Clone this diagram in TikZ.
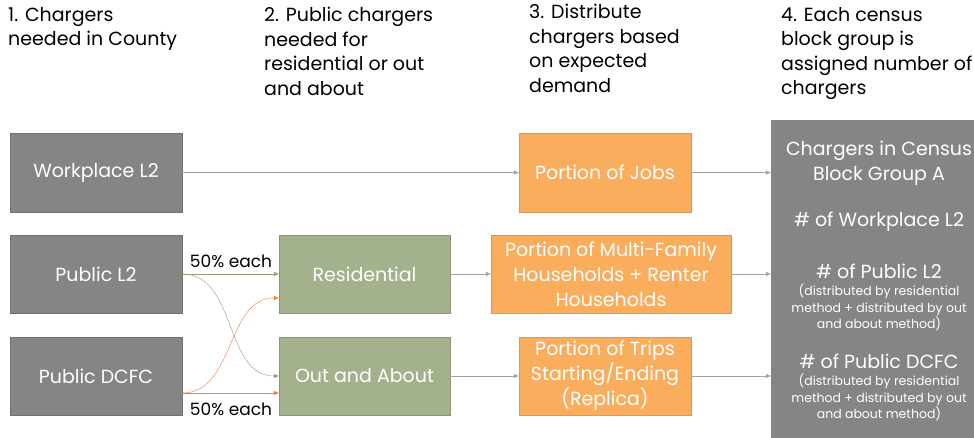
\documentclass[tikz,border=0pt]{standalone}
\usepackage{fontspec}
\setmainfont{Poppins}
\usetikzlibrary{arrows.meta,positioning,calc}
\definecolor{BoxGray}{HTML}{858585}
\definecolor{BoxGreen}{HTML}{A3B18C}
\definecolor{BoxOrange}{HTML}{FBAD5E}
\definecolor{LineGray}{HTML}{A3A3A3}
\definecolor{LineGreen}{HTML}{8FA07A}
\definecolor{LineOrange}{HTML}{F47B3A}
\tikzstyle{county} = [rectangle, minimum width=172pt, minimum height=79pt, fill=BoxGray, draw=BoxGray!85!black, text=white, font=\fontsize{19}{25}\selectfont]
\tikzstyle{split} = [county, minimum width=171pt, fill=BoxGreen, draw=BoxGreen!85!black]
\tikzstyle{demand} = [county, fill=BoxOrange, draw=BoxOrange!88!black, align=center]
\tikzstyle{heading} = [anchor=north west, align=left, inner sep=0pt, font=\fontsize{19}{24.5}\selectfont]
\tikzstyle{arrow} = [thin,-{Triangle[length=5pt,width=4pt]}]
\begin{document}
\begin{tikzpicture}[x=1pt,y=-1pt]
\useasboundingbox (0,0) rectangle (974,438);
% column headings
\node[heading] (h1) at (8,7) {1. Chargers\\needed in County};
\node[heading] (h2) at (264,7) {2. Public chargers\\needed for\\residential or out\\and about};
\node[heading] (h3) at (529,4) {3. Distribute\\chargers based\\on expected\\demand};
\node[heading] (h4) at (781,7) {4. Each census\\block group is\\assigned number of\\chargers};
% chargers needed in county
\node[county] (wp) at (96,172.5) {Workplace L2};
\node[county, minimum height=78pt] (pl2) at (96,274) {Public L2};
\node[county, minimum height=78pt] (dcfc) at (96,376) {Public DCFC};
% residential / out and about
\node[split, minimum height=78pt] (res) at (364.5,274) {Residential};
\node[split, minimum height=78pt] (oaa) at (364.5,376) {Out and About};
% distribution by demand
\node[demand] (jobs) at (605,172.5) {Portion of Jobs};
\node[demand, minimum width=240pt, minimum height=78pt] (mfh) at (611,274) {Portion of Multi-Family\\Households + Renter\\Households};
\node[demand, minimum height=78pt] (trips) at (605,376) {Portion of Trips\\Starting/Ending\\(Replica)};
% census block group
\node[rectangle, fill=BoxGray, minimum width=216pt, minimum height=318pt] (cbg) at (879,279) {};
\begin{scope}[text=white, font=\fontsize{19}{25}\selectfont, align=center]
\node (cbgA) at (879,163.5) {Chargers in Census\\Block Group A};
\node (cbgW) at (879,222) {\# of Workplace L2};
\node (cbgL) at (879,271) {\# of Public L2};
\node[font=\fontsize{12.5}{16.5}\selectfont] (cbgLn) at (879,307.5) {(distributed by residential\\method + distributed by out\\and about method)};
\node (cbgD) at (879,361) {\# of Public DCFC};
\node[font=\fontsize{12.5}{16.5}\selectfont] (cbgDn) at (879,397.5) {(distributed by residential\\method + distributed by out\\and about method)};
\end{scope}
% connectors
\draw[arrow, LineGray] (wp) -- (jobs);
\draw[arrow, LineGray] (jobs) -- (jobs -| cbg.west);
\draw[arrow, LineGray] (res) -- (mfh);
\draw[arrow, LineGray] (mfh) -- (mfh -| cbg.west);
\draw[arrow, LineGray] (oaa) -- (trips);
\draw[arrow, LineGray] (trips) -- (trips -| cbg.west);
\draw[arrow, LineGreen] (pl2) -- (res);
\draw[arrow, LineGreen] (pl2.east) to[out=0, in=180] (oaa.west);
\draw[arrow, LineOrange] ($(dcfc.east)+(0,17)$) -- ($(oaa.west)+(0,17)$);
\draw[arrow, LineOrange] ($(dcfc.east)+(0,17)$) to[out=0, in=180] ($(res.west)+(0,24)$);
\node[font=\fontsize{17}{20}\selectfont] (half1) at (231,261) {50\% each};
\node[font=\fontsize{17}{20}\selectfont] (half2) at (231,409) {50\% each};
\end{tikzpicture}
\end{document}
